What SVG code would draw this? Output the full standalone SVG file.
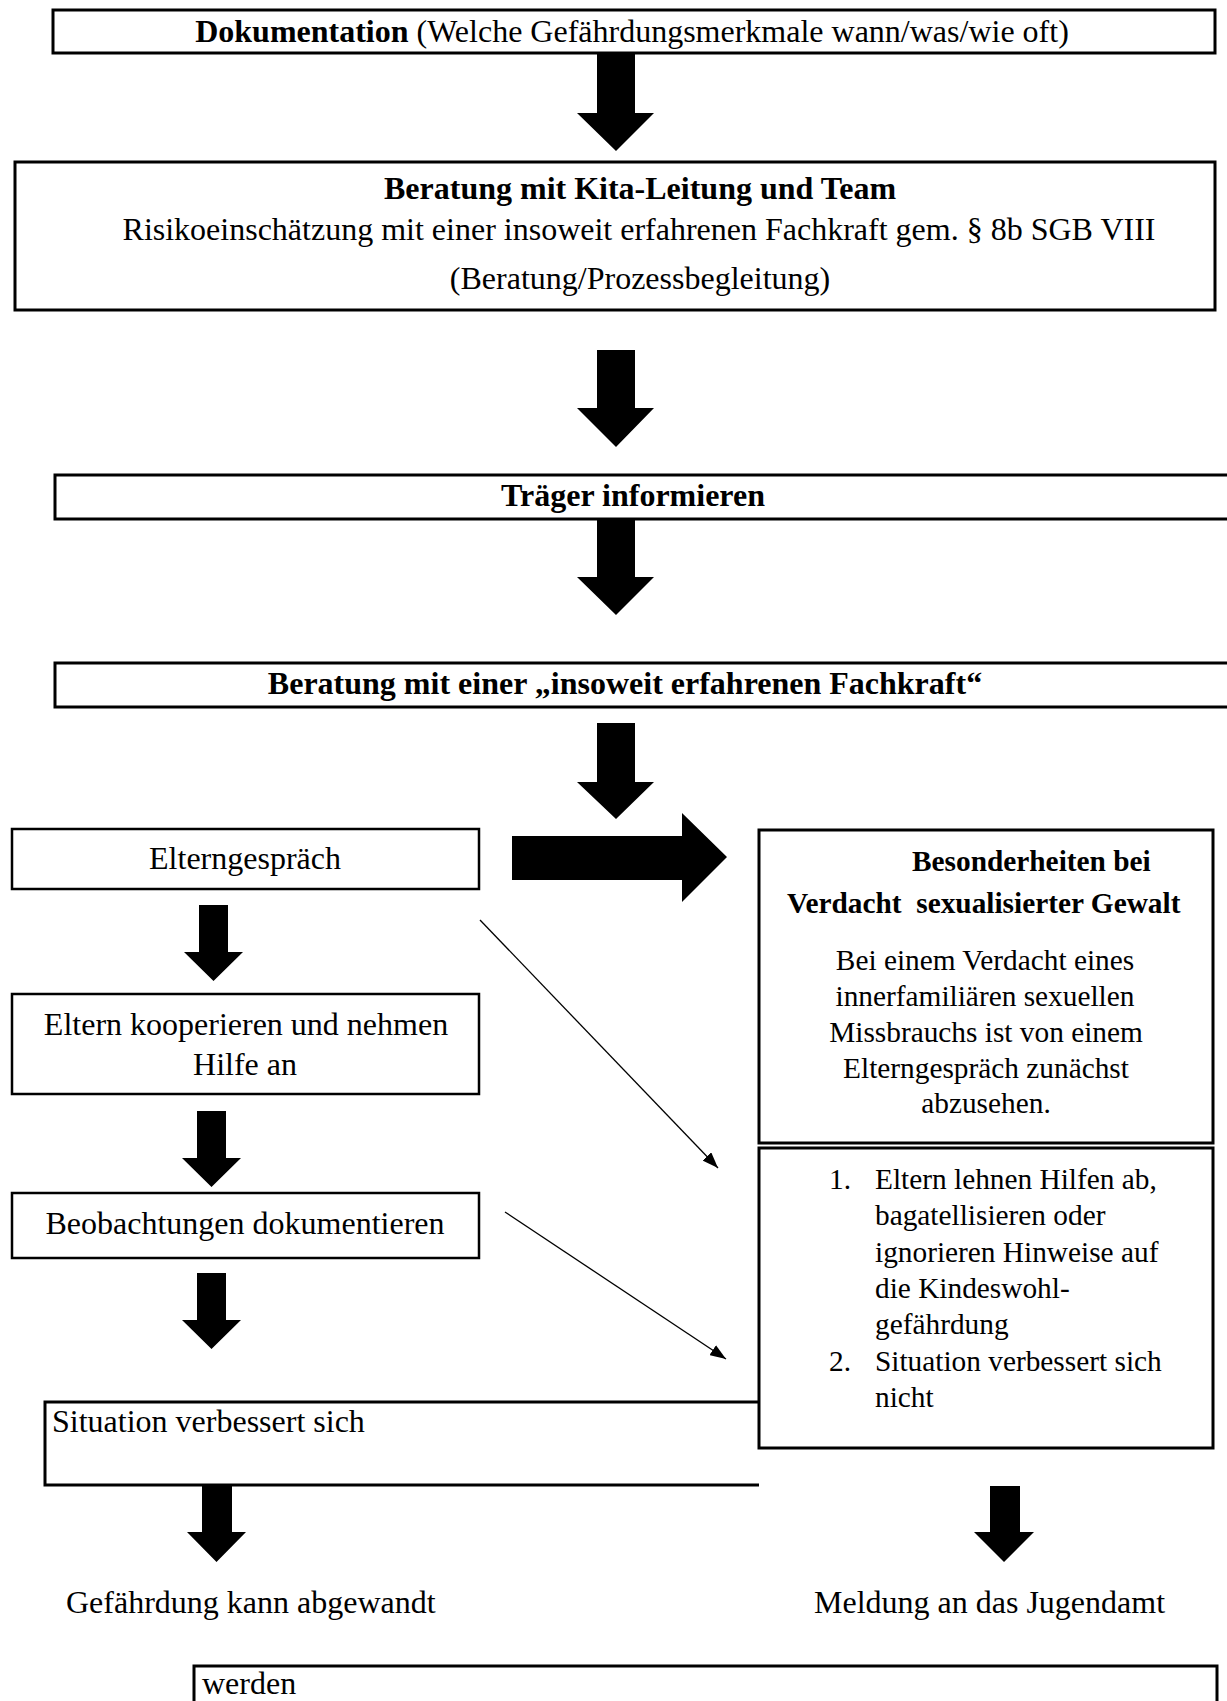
<svg xmlns="http://www.w3.org/2000/svg" width="1227" height="1701" viewBox="0 0 1227 1701">
<style>
  .box{fill:#fff;stroke:#000;stroke-width:3}
  .lbox{fill:#fff;stroke:#000;stroke-width:2.5}
  .open{fill:none;stroke:#000;stroke-width:3}
  .t{font-family:"Liberation Serif","Times New Roman",serif;font-size:32px;fill:#000}
  .s{font-family:"Liberation Serif","Times New Roman",serif;font-size:29.33px;fill:#000}
  .b{font-weight:bold}
  .m{text-anchor:middle}
  .fat{fill:#000;stroke:none}
  .thin{stroke:#000;stroke-width:1.3;fill:none}
</style>
<defs>
  <marker id="ah" markerUnits="userSpaceOnUse" markerWidth="16" markerHeight="12" refX="16" refY="6" orient="auto">
    <path d="M0,0 L16,6 L0,12 z" fill="#000"/>
  </marker>
</defs>
<rect width="1227" height="1701" fill="#fff"/>

<g id="connectors">
  <polygon class="fat" points="597,53 635,53 635,113 654,113 616,151 577,113 597,113"/>
  <polygon class="fat" points="597,350 635,350 635,408 654,408 616,447 577,408 597,408"/>
  <polygon class="fat" points="597,519 635,519 635,577 654,577 616,615 577,577 597,577"/>
  <polygon class="fat" points="597,723 635,723 635,782 654,782 616,819 577,782 597,782"/>
  <polygon class="fat" points="512,836 682,836 682,813 727,857 682,902 682,880 512,880"/>
  <polygon class="fat" points="199,905 228,905 228,952 243,952 213.5,981 184,952 199,952"/>
  <polygon class="fat" points="197,1111 226,1111 226,1158 241,1158 211.5,1187 182,1158 197,1158"/>
  <polygon class="fat" points="197,1273 226,1273 226,1320 241,1320 211.5,1349 182,1320 197,1320"/>
  <polygon class="fat" points="202,1485 232,1485 232,1532 246,1532 216.5,1562 187,1532 202,1532"/>
  <polygon class="fat" points="990,1486 1020,1486 1020,1532 1034,1532 1004,1562 974,1532 990,1532"/>
  <line class="thin" x1="480" y1="920" x2="718" y2="1168" marker-end="url(#ah)"/>
  <line class="thin" x1="505" y1="1212" x2="726" y2="1359" marker-end="url(#ah)"/>
</g>

<g id="dokumentation">
  <rect class="box" x="53" y="10" width="1162" height="43"/>
  <text class="t m" x="632" y="42"><tspan class="b">Dokumentation</tspan> (Welche Gefährdungsmerkmale wann/was/wie oft)</text>
</g>

<g id="beratung-kita">
  <rect class="box" x="15" y="162" width="1200" height="148"/>
  <text class="t b m" x="640" y="199">Beratung mit Kita-Leitung und Team</text>
  <text class="t m" x="639" y="240">Risikoeinschätzung mit einer insoweit erfahrenen Fachkraft gem. § 8b SGB VIII</text>
  <text class="t m" x="640" y="289">(Beratung/Prozessbegleitung)</text>
</g>

<g id="traeger">
  <rect class="box" x="55" y="475" width="1200" height="44"/>
  <text class="t b m" x="633" y="506">Träger informieren</text>
</g>

<g id="beratung-fachkraft">
  <rect class="box" x="55" y="663" width="1200" height="44"/>
  <text class="t b m" x="625" y="694">Beratung mit einer „insoweit erfahrenen Fachkraft“</text>
</g>

<g id="elterngespraech">
  <rect class="lbox" x="12" y="829" width="467" height="60"/>
  <text class="t m" x="245" y="869">Elterngespräch</text>
</g>

<g id="eltern-kooperieren">
  <rect class="lbox" x="12" y="994" width="467" height="100"/>
  <text class="t m" x="246" y="1035">Eltern kooperieren und nehmen</text>
  <text class="t m" x="245" y="1075">Hilfe an</text>
</g>

<g id="beobachtungen">
  <rect class="lbox" x="12" y="1193" width="467" height="65"/>
  <text class="t m" x="245" y="1234">Beobachtungen dokumentieren</text>
</g>

<g id="situation-verbessert">
  <path class="open" d="M759,1402 H45 V1485 H759"/>
  <text class="t" x="52" y="1432">Situation verbessert sich</text>
</g>

<g id="besonderheiten">
  <rect class="box" x="759" y="830" width="454" height="313"/>
  <text class="s b" x="912" y="871">Besonderheiten bei</text>
  <text class="s b" x="787" y="913" xml:space="preserve">Verdacht  sexualisierter Gewalt</text>
  <text class="s m" x="985" y="970">Bei einem Verdacht eines</text>
  <text class="s m" x="985" y="1006">innerfamiliären sexuellen</text>
  <text class="s m" x="986" y="1042">Missbrauchs ist von einem</text>
  <text class="s m" x="986" y="1078">Elterngespräch zunächst</text>
  <text class="s m" x="986" y="1113">abzusehen.</text>
</g>

<g id="eltern-lehnen-ab">
  <rect class="box" x="759" y="1148" width="454" height="300"/>
  <text class="s" x="829" y="1189">1.</text>
  <text class="s" x="875" y="1189">Eltern lehnen Hilfen ab,</text>
  <text class="s" x="875" y="1225">bagatellisieren oder</text>
  <text class="s" x="875" y="1261.5">ignorieren Hinweise auf</text>
  <text class="s" x="875" y="1298">die Kindeswohl-</text>
  <text class="s" x="875" y="1334">gefährdung</text>
  <text class="s" x="829" y="1370.5">2.</text>
  <text class="s" x="875" y="1370.5">Situation verbessert sich</text>
  <text class="s" x="875" y="1407">nicht</text>
</g>

<g id="gefaehrdung-abgewandt">
  <text class="t" x="66" y="1613">Gefährdung kann abgewandt</text>
</g>

<g id="meldung-jugendamt">
  <text class="t" x="814" y="1613">Meldung an das Jugendamt</text>
</g>

<g id="werden">
  <rect class="box" x="194" y="1666" width="1023" height="60"/>
  <text class="t" x="202" y="1694">werden</text>
</g>
</svg>
